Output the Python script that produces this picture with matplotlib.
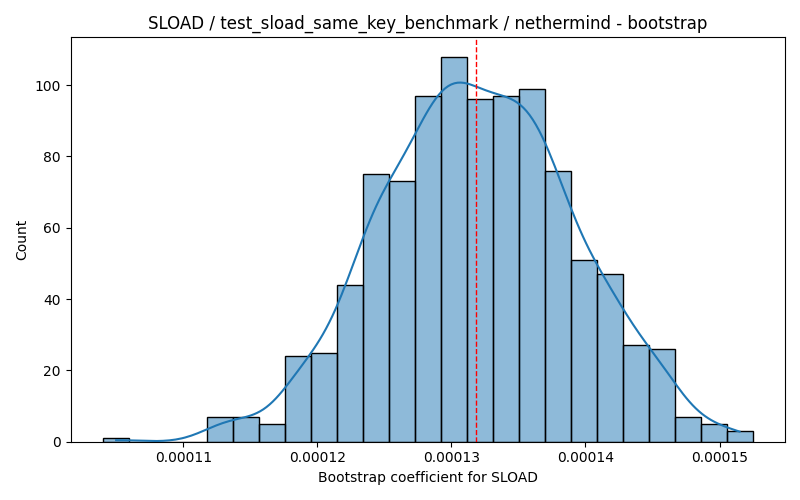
import matplotlib
matplotlib.use("Agg")
import matplotlib.pyplot as plt
import seaborn as sns
import numpy as np

# histogram (25 bins, 1000 bootstrap samples)
bin_start = 1.04026e-4
bin_end = 1.52458e-4
counts = [1, 0, 0, 0, 7, 7, 5, 24, 25, 44, 75, 73, 97,
          108, 96, 97, 99, 76, 51, 47, 27, 26, 7, 5, 3]
point_estimate = 1.3182e-4

edges = np.linspace(bin_start, bin_end, len(counts) + 1)
centers = (edges[:-1] + edges[1:]) / 2

fig, ax = plt.subplots(figsize=(8, 5), dpi=100)
sns.histplot(x=centers, weights=counts, bins=len(counts),
             binrange=(bin_start, bin_end), kde=True,
             kde_kws={"bw_adjust": 0.4}, ax=ax)
ax.axvline(point_estimate, color="red", linestyle="--", linewidth=1)

ax.set_title("SLOAD / test_sload_same_key_benchmark / nethermind - bootstrap")
ax.set_xlabel("Bootstrap coefficient for SLOAD")
ax.set_ylabel("Count")

plt.tight_layout()
plt.savefig("out.png")
